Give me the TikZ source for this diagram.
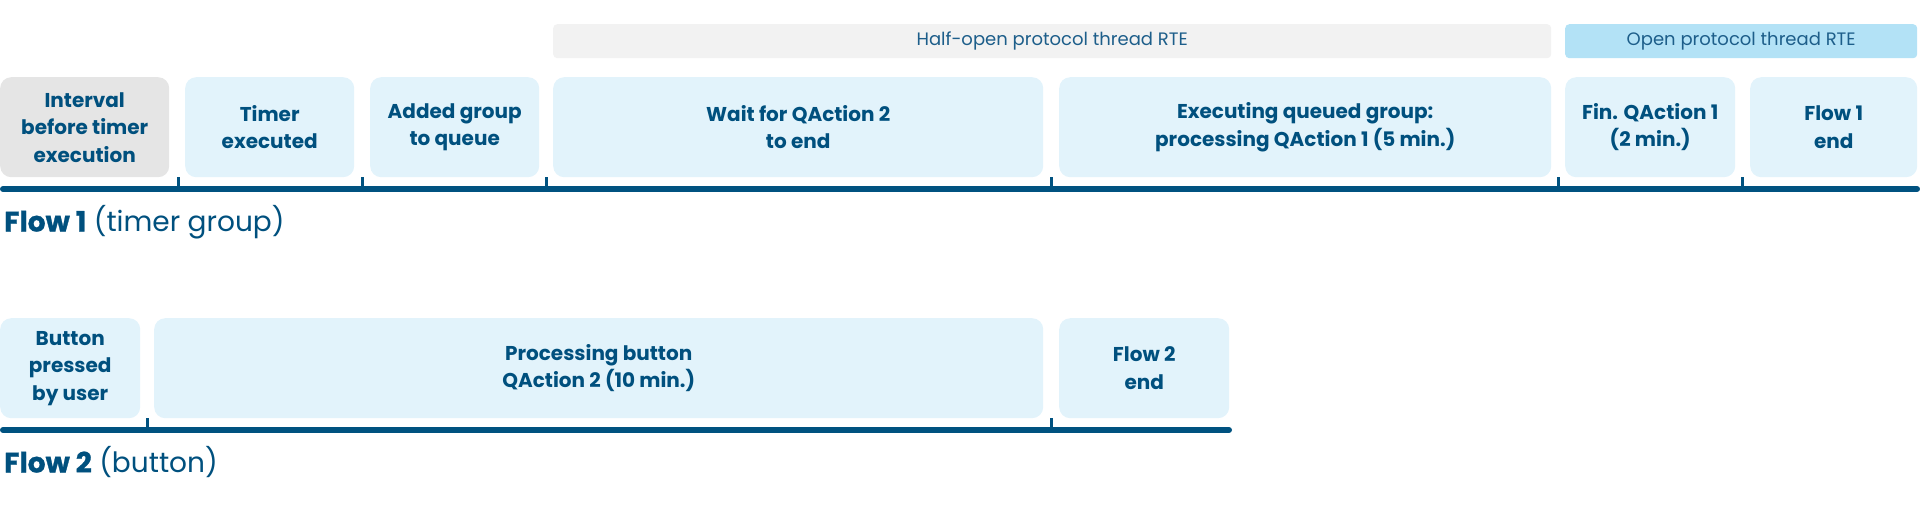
\documentclass[tikz,border=0pt]{standalone}
\usepackage{fontspec}
\setmainfont{Poppins}
\definecolor{boxblue}{HTML}{E2F3FB}
\definecolor{boxgray}{HTML}{E5E5E5}
\definecolor{bandgray}{HTML}{F2F2F2}
\definecolor{bandblue}{HTML}{B3E2F6}
\definecolor{txtblue}{HTML}{00507E}
\definecolor{bandtxt}{HTML}{1D5E8A}
\definecolor{lineblue}{HTML}{005280}
\newcommand{\heavytext}[1]{{\bfseries\addfontfeatures{FakeBold=1}#1}}
\begin{document}
\begin{tikzpicture}[x=1pt,y=-1pt,
  box/.style={fill=boxblue, rounded corners=11pt, inner sep=0pt, text=txtblue,
    font=\bfseries\fontsize{20}{27.5}\selectfont, align=center, anchor=north west,
    minimum height=100pt},
  graybox/.style={box, fill=boxgray},
  band/.style={rounded corners=4pt, inner sep=0pt, minimum height=34pt, anchor=north west,
    font=\fontsize{18}{22}\selectfont, text=bandtxt},
  timeline/.style={draw=lineblue, line width=6pt, line cap=round},
  tick/.style={draw=lineblue, line width=3pt},
  flowlabel/.style={anchor=base west, inner sep=0pt, text=txtblue, font=\fontsize{28}{32}\selectfont}
]
\useasboundingbox (0,0) rectangle (1920,515);

% bands
\node[band, fill=bandgray, minimum width=998pt] (half) at (553,24) {Half-open protocol thread RTE};
\node[band, fill=bandblue, minimum width=352pt] (open) at (1565,24) {Open protocol thread RTE};

% row 1
\node[graybox, minimum width=169pt] (b1) at (0,77) {Interval\\before timer\\execution};
\node[box, minimum width=169pt] (b2) at (185,77) {Timer\\executed};
\node[box, minimum width=169pt] (b3) at (370,77) {Added group\\to queue};
\node[box, minimum width=490pt] (b4) at (553,77) {Wait for QAction 2\\to end};
\node[box, minimum width=492pt] (b5) at (1059,77) {Executing queued group:\\processing QAction 1 (5 min.)};
\node[box, minimum width=170pt] (b6) at (1565,77) {Fin. QAction 1\\(2 min.)};
\node[box, minimum width=167pt] (b7) at (1750,77) {Flow 1\\end};

\coordinate (t1s) at (3,189);
\coordinate (t1e) at (1917,189);
\draw[timeline] (t1s) -- (t1e);
\foreach \x [count=\i] in {178,362,546,1051,1558,1742}{
  \coordinate (k1a\i) at (\x,177);
  \coordinate (k1b\i) at (\x,189);
  \draw[tick] (k1a\i) -- (k1b\i);
}
\node[flowlabel] (f1) at (4,231.5) {\heavytext{Flow 1} (timer group)};

% row 2
\node[box, minimum width=140pt] (c1) at (0,318) {Button\\pressed\\by user};
\node[box, minimum width=889pt] (c2) at (154,318) {Processing button\\QAction 2 (10 min.)};
\node[box, minimum width=170pt] (c3) at (1059,318) {Flow 2\\end};

\coordinate (t2s) at (3,430);
\coordinate (t2e) at (1229,430);
\draw[timeline] (t2s) -- (t2e);
\foreach \x [count=\i] in {147,1051}{
  \coordinate (k2a\i) at (\x,418);
  \coordinate (k2b\i) at (\x,430);
  \draw[tick] (k2a\i) -- (k2b\i);
}
\node[flowlabel] (f2) at (4,472.5) {\heavytext{Flow 2} (button)};
\end{tikzpicture}
\end{document}
